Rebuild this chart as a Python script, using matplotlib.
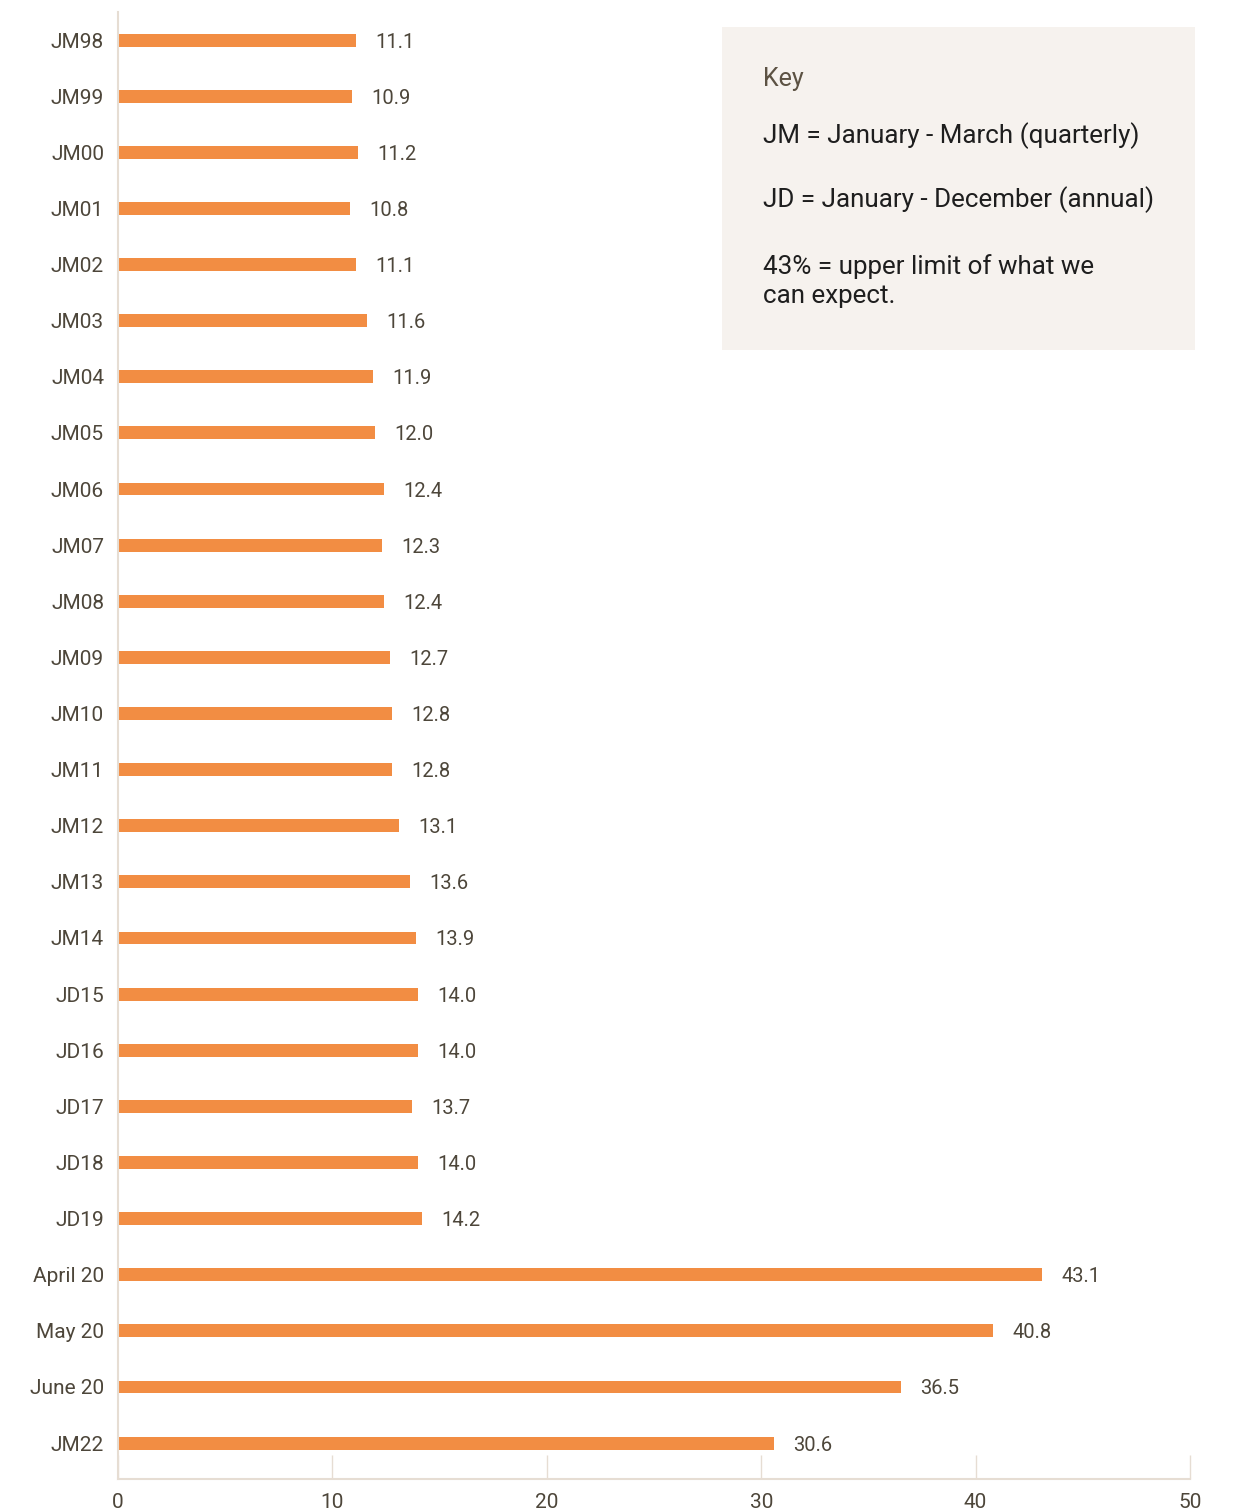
import matplotlib
matplotlib.use('Agg')
import matplotlib.pyplot as plt
from matplotlib.patches import Rectangle

labels = ['JM98', 'JM99', 'JM00', 'JM01', 'JM02', 'JM03', 'JM04', 'JM05', 'JM06',
          'JM07', 'JM08', 'JM09', 'JM10', 'JM11', 'JM12', 'JM13', 'JM14',
          'JD15', 'JD16', 'JD17', 'JD18', 'JD19', 'April 20', 'May 20', 'June 20', 'JM22']
values = [11.1, 10.9, 11.2, 10.8, 11.1, 11.6, 11.9, 12.0, 12.4,
          12.3, 12.4, 12.7, 12.8, 12.8, 13.1, 13.6, 13.9,
          14.0, 14.0, 13.7, 14.0, 14.2, 43.1, 40.8, 36.5, 30.6]
xticks = [0, 10, 20, 30, 40, 50]

key_title = 'Key'
key_lines = ['JM = January - March (quarterly)',
             'JD = January - December (annual)',
             '43% = upper limit of what we\ncan expect.']

plt.rcParams['font.family'] = ['Roboto', 'DejaVu Sans']
bar_col = '#f28d43'
txt_col = '#4d463a'
line_col = '#e6ddd3'

fig = plt.figure(figsize=(12.34, 15.10), dpi=100)
ax = fig.add_axes([118/1234, 31/1510, (1190-118)/1234, (1479-12)/1510])

y = list(range(len(labels)))
ax.barh(y, values, height=0.23, color=bar_col)
for i, v in enumerate(values):
    ax.text(v + 0.9, i, f'{v:.1f}', va='center_baseline', ha='left', fontsize=14.5, color=txt_col)

ax.set_ylim(25.64, -0.5)
ax.set_xlim(0, 50)
ax.set_yticks(y)
ax.set_yticklabels(labels, fontsize=15, color=txt_col)
ax.set_xticks(xticks)
ax.set_xticklabels([str(t) for t in xticks], fontsize=15, color=txt_col)
ax.tick_params(axis='y', length=0, pad=10)
ax.tick_params(axis='x', direction='in', length=17, width=1, color=line_col, pad=10)
for s in ['top', 'right']:
    ax.spines[s].set_visible(False)
ax.spines['left'].set_color(line_col)
ax.spines['bottom'].set_color(line_col)
ax.spines['left'].set_linewidth(1.5)
ax.spines['bottom'].set_linewidth(1.5)

# key box
fig.patches.append(Rectangle((722/1234, 1 - 350/1510), (1195-722)/1234, (350-27)/1510,
                             transform=fig.transFigure, facecolor='#f6f2ee', edgecolor='none'))
fig.text(763/1234, 1 - 79/1510, key_title, fontsize=18, color='#5c5243', va='center')
fig.text(763/1234, 1 - 136/1510, key_lines[0], fontsize=18.7, color='#1e1e1e', va='center')
fig.text(763/1234, 1 - 200/1510, key_lines[1], fontsize=18.7, color='#1e1e1e', va='center')
fig.text(763/1234, 1 - 281/1510, key_lines[2], fontsize=18.7, color='#1e1e1e', va='center',
         linespacing=1.3)

fig.savefig('out.png', dpi=100)
